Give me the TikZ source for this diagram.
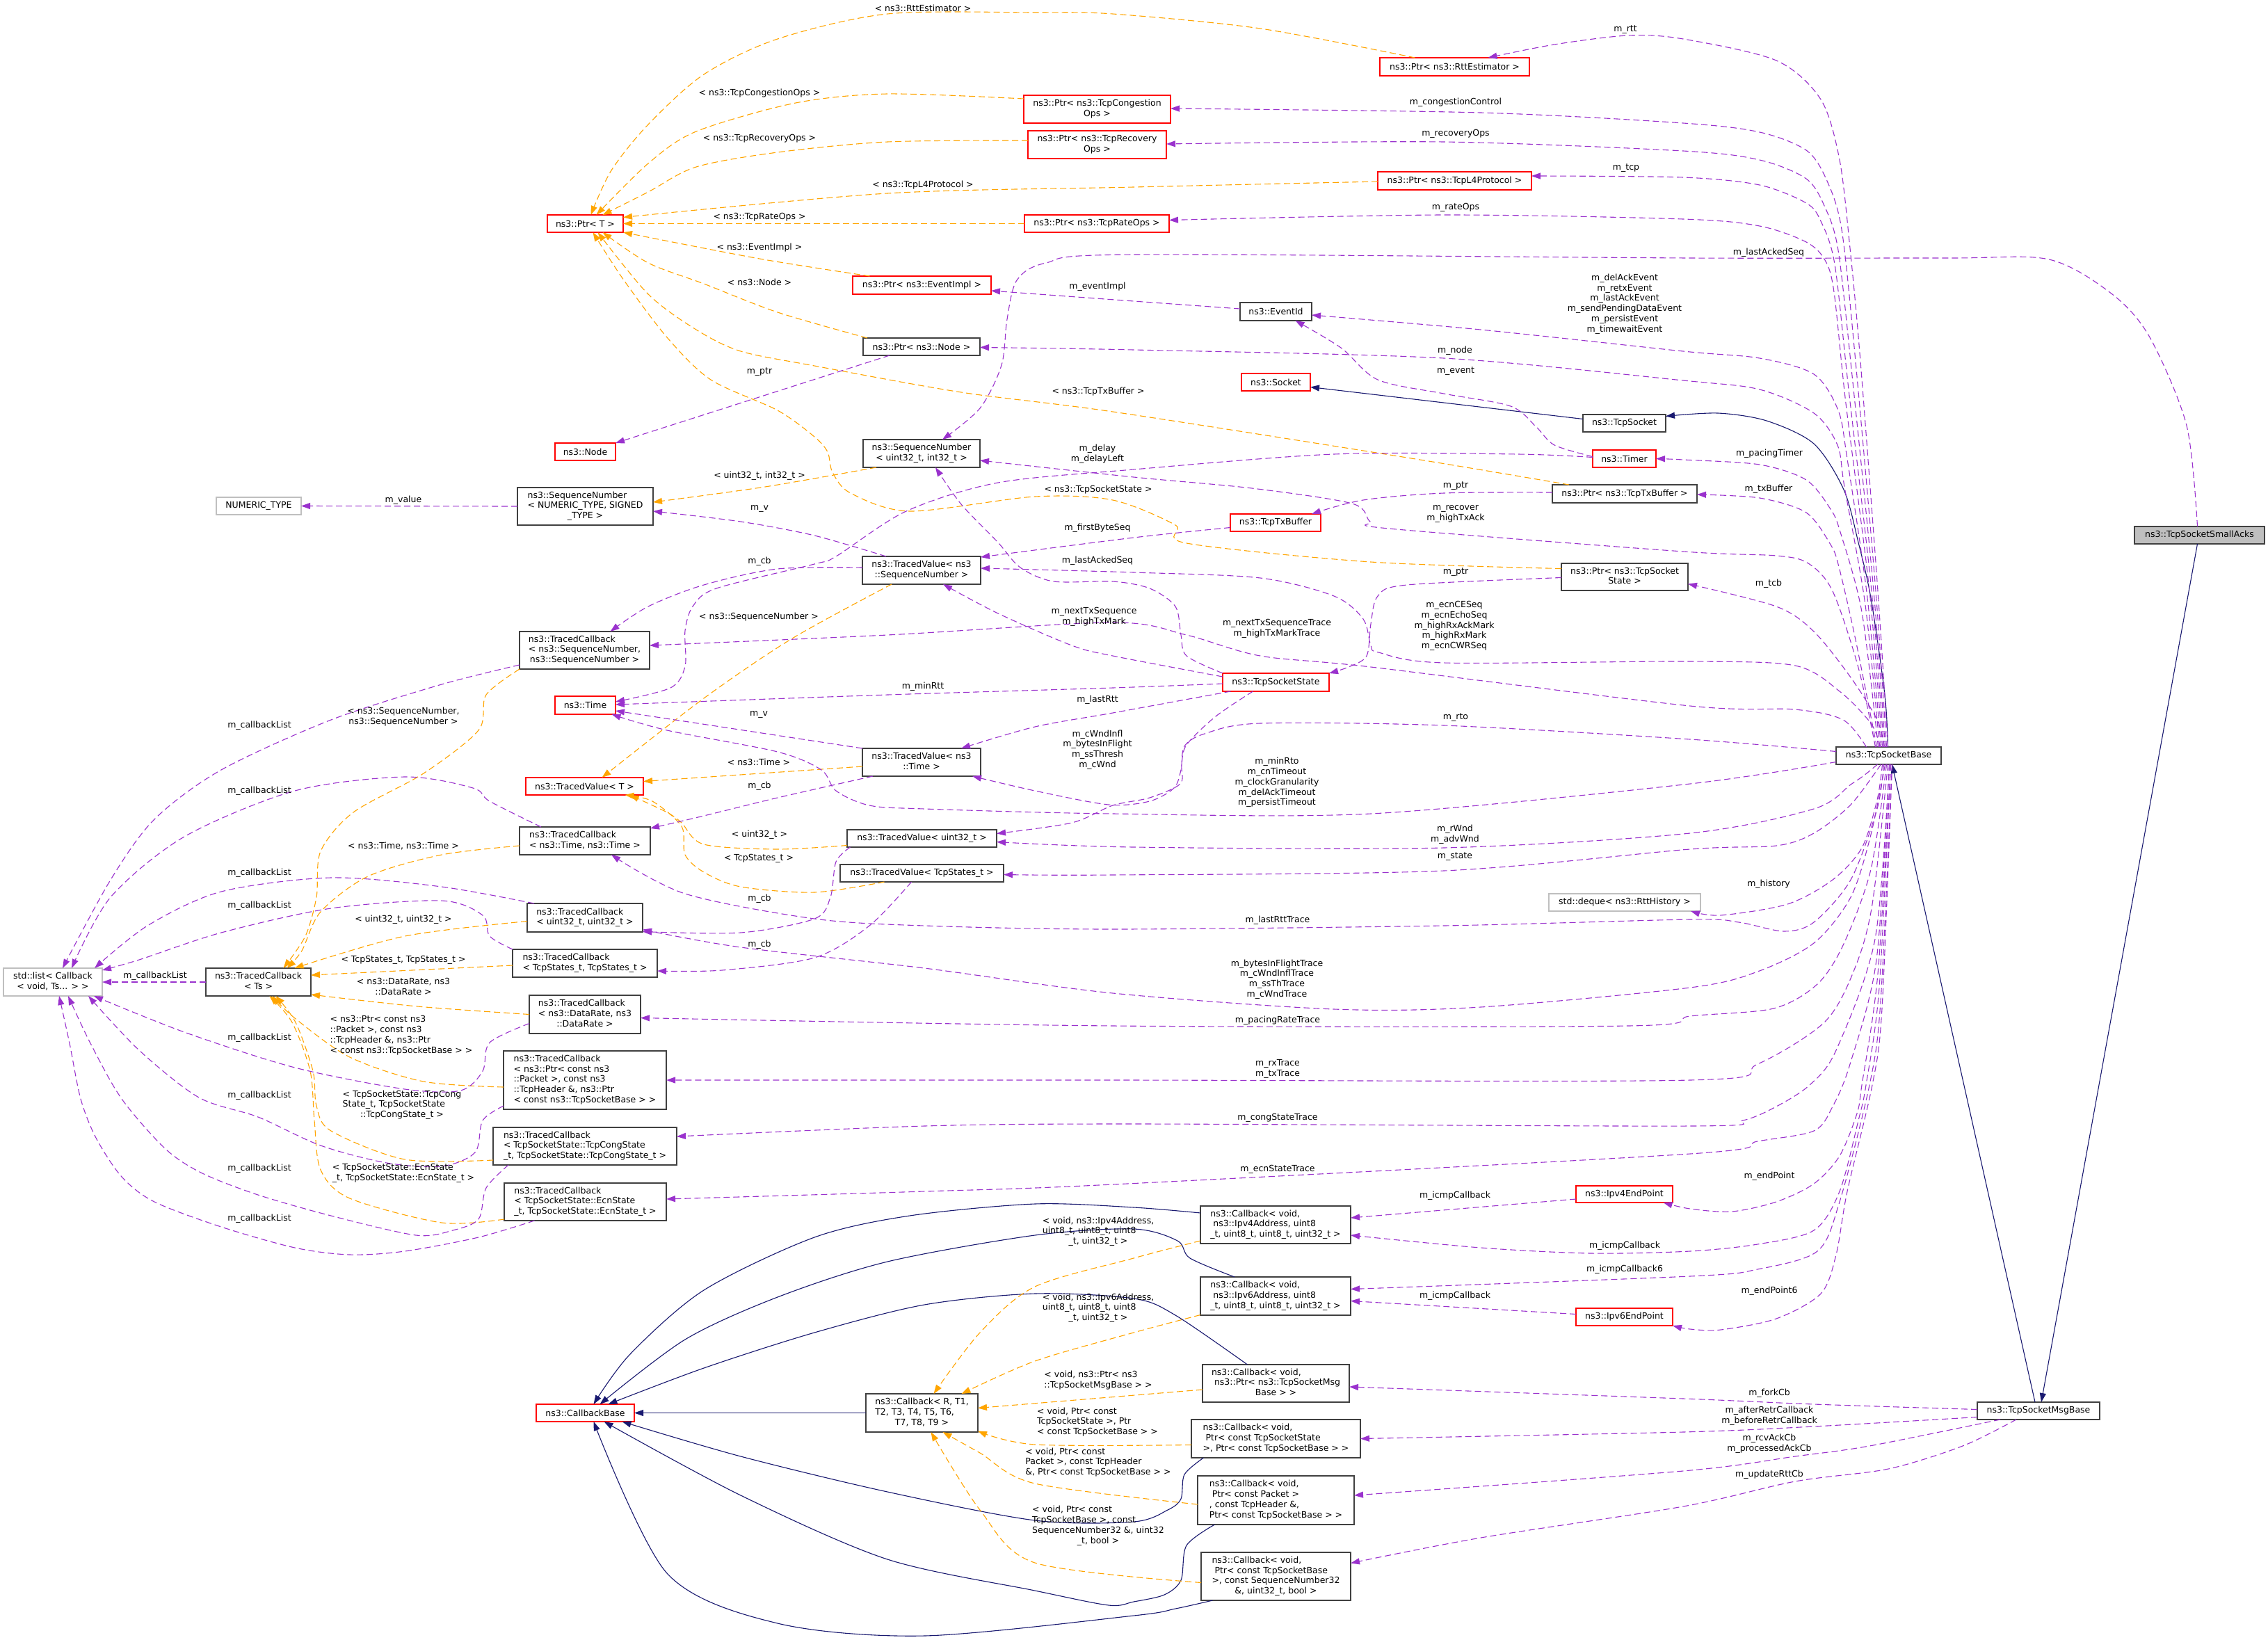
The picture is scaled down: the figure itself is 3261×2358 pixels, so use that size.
\documentclass[tikz,border=0pt]{standalone}
\usepackage{fontspec}
\setmainfont{DejaVu Sans}
\usetikzlibrary{arrows.meta}
\definecolor{uc}{HTML}{9A32CD}
\definecolor{tc}{HTML}{FFA500}
\definecolor{ic}{HTML}{191970}
\definecolor{bc}{HTML}{404040}
\definecolor{gc}{HTML}{BFBFBF}
\definecolor{rc}{HTML}{FF0000}
\newcommand\ml[2]{\begin{tabular}{@{}l@{}}#1\\\multicolumn{1}{@{}c@{}}{#2}\end{tabular}}
\newcommand\nd[7]{\node[#6,minimum width={#4-#2},minimum height={#5-#3}] (#1) at ({(#2+#4)/2},{(#3+#5)/2}) {#7};}
\newcommand\E[2]{\draw[#1] plot[smooth,tension=0.5] coordinates {#2};}
\begin{document}
\begin{tikzpicture}[x=1pt,y=-1pt,
  every node/.style={font=\fontsize{12.5}{14.8}\selectfont},
  box/.style={draw, line width=1.1pt, fill=white, inner sep=1pt, outer sep=0pt},
  bbox/.style={box, draw=bc},
  rbox/.style={box, draw=rc},
  gbox/.style={box, draw=gc},
  sbox/.style={box, draw=bc, fill=gc},
  lab/.style={inner sep=0pt, align=center},
  mem/.style={draw=uc, line width=1.1pt, dash pattern=on 9pt off 5pt, -{Triangle[length=13pt,width=9pt]}},
  tpl/.style={draw=tc, line width=1.1pt, dash pattern=on 9pt off 5pt, -{Triangle[length=13pt,width=9pt]}},
  inh/.style={draw=ic, line width=1.1pt, -{Triangle[length=13pt,width=9pt]}}
]
\fill[white] (0,0) rectangle (3261,2358);
\useasboundingbox (0,0) rectangle (3261,2358);

% ---------------- nodes ----------------
\nd{smallacks}{3069}{757}{3256}{782}{sbox}{ns3::TcpSocketSmallAcks}
\nd{base}{2640}{1074}{2791}{1099}{bbox}{ns3::TcpSocketBase}
\nd{msgbase}{2843}{2016}{3019}{2041}{bbox}{ns3::TcpSocketMsgBase}
\nd{tcpsocket}{2276}{596}{2395}{621}{bbox}{ns3::TcpSocket}
\nd{socket}{1785}{537}{1884}{562}{rbox}{ns3::Socket}
\nd{rttptr}{1984}{83}{2199}{109}{rbox}{ns3::Ptr< ns3::RttEstimator >}
\nd{congptr}{1472}{137}{1683}{177}{rbox}{\ml{ns3::Ptr< ns3::TcpCongestion}{Ops >}}
\nd{recptr}{1478}{188}{1677}{228}{rbox}{\ml{ns3::Ptr< ns3::TcpRecovery}{Ops >}}
\nd{l4ptr}{1981}{247}{2202}{273}{rbox}{ns3::Ptr< ns3::TcpL4Protocol >}
\nd{rateptr}{1473}{309}{1681}{334}{rbox}{ns3::Ptr< ns3::TcpRateOps >}
\nd{ptrT}{787}{309}{896}{334}{rbox}{ns3::Ptr< T >}
\nd{evptr}{1226}{397}{1425}{423}{rbox}{ns3::Ptr< ns3::EventImpl >}
\nd{eventid}{1783}{435}{1886}{461}{bbox}{ns3::EventId}
\nd{nodeptr}{1241}{486}{1409}{511}{bbox}{ns3::Ptr< ns3::Node >}
\nd{nnode}{798}{637}{885}{662}{rbox}{ns3::Node}
\nd{sequ}{1241}{632}{1409}{672}{bbox}{\ml{ns3::SequenceNumber}{< uint32\_t, int32\_t >}}
\nd{timer}{2290}{647}{2381}{672}{rbox}{ns3::Timer}
\nd{txptr}{2232}{697}{2440}{723}{bbox}{ns3::Ptr< ns3::TcpTxBuffer >}
\nd{txbuf}{1769}{739}{1899}{764}{rbox}{ns3::TcpTxBuffer}
\nd{numtype}{311}{715}{433}{740}{gbox}{NUMERIC\_TYPE}
\nd{seqgen}{744}{701}{939}{755}{bbox}{\ml{ns3::SequenceNumber\\< NUMERIC\_TYPE, SIGNED}{\_TYPE >}}
\nd{tvseq}{1240}{800}{1410}{840}{bbox}{\ml{ns3::TracedValue< ns3}{::SequenceNumber >}}
\nd{tcbptr}{2245}{810}{2427}{849}{bbox}{\ml{ns3::Ptr< ns3::TcpSocket}{State >}}
\nd{tcseq}{747}{908}{934}{962}{bbox}{\ml{ns3::TracedCallback\\< ns3::SequenceNumber,}{ns3::SequenceNumber >}}
\nd{tcs}{1758}{968}{1911}{994}{rbox}{ns3::TcpSocketState}
\nd{time}{798}{1001}{885}{1027}{rbox}{ns3::Time}
\nd{tvtime}{1240}{1076}{1410}{1116}{bbox}{\ml{ns3::TracedValue< ns3}{::Time >}}
\nd{tvT}{756}{1118}{925}{1143}{rbox}{ns3::TracedValue< T >}
\nd{tctime}{747}{1189}{935}{1229}{bbox}{\ml{ns3::TracedCallback}{< ns3::Time, ns3::Time >}}
\nd{tvu32}{1218}{1193}{1433}{1218}{bbox}{ns3::TracedValue< uint32\_t >}
\nd{tvstates}{1208}{1243}{1443}{1268}{bbox}{ns3::TracedValue< TcpStates\_t >}
\nd{deque}{2227}{1285}{2445}{1310}{gbox}{std::deque< ns3::RttHistory >}
\nd{tcu32}{758}{1299}{924}{1340}{bbox}{\ml{ns3::TracedCallback}{< uint32\_t, uint32\_t >}}
\nd{tcstates}{737}{1365}{945}{1405}{bbox}{\ml{ns3::TracedCallback}{< TcpStates\_t, TcpStates\_t >}}
\nd{stdlist}{5}{1392}{147}{1432}{gbox}{\ml{std::list< Callback}{< void, Ts... > >}}
\nd{tcts}{296}{1392}{447}{1432}{bbox}{\ml{ns3::TracedCallback}{< Ts >}}
\nd{tcrate}{761}{1431}{921}{1486}{bbox}{\ml{ns3::TracedCallback\\< ns3::DataRate, ns3}{::DataRate >}}
\nd{tcpkt}{724}{1511}{958}{1595}{bbox}{\ml{ns3::TracedCallback\\< ns3::Ptr< const ns3\\::Packet >, const ns3\\::TcpHeader \&, ns3::Ptr}{< const ns3::TcpSocketBase > >}}
\nd{tccong}{709}{1621}{973}{1675}{bbox}{\ml{ns3::TracedCallback\\< TcpSocketState::TcpCongState}{\_t, TcpSocketState::TcpCongState\_t >}}
\nd{tcecn}{725}{1701}{958}{1755}{bbox}{\ml{ns3::TracedCallback\\< TcpSocketState::EcnState}{\_t, TcpSocketState::EcnState\_t >}}
\nd{cbbase}{771}{2019}{912}{2044}{rbox}{ns3::CallbackBase}
\nd{cbgen}{1245}{2004}{1406}{2059}{bbox}{\ml{ns3::Callback< R, T1,\\T2, T3, T4, T5, T6,}{T7, T8, T9 >}}
\nd{cbipv4}{1726}{1734}{1942}{1788}{bbox}{\ml{ns3::Callback< void,\\\hspace*{4pt}ns3::Ipv4Address, uint8}{\_t, uint8\_t, uint8\_t, uint32\_t >}}
\nd{cbipv6}{1726}{1836}{1942}{1891}{bbox}{\ml{ns3::Callback< void,\\\hspace*{4pt}ns3::Ipv6Address, uint8}{\_t, uint8\_t, uint8\_t, uint32\_t >}}
\nd{ipv4ep}{2266}{1705}{2405}{1729}{rbox}{ns3::Ipv4EndPoint}
\nd{ipv6ep}{2266}{1881}{2405}{1906}{rbox}{ns3::Ipv6EndPoint}
\nd{cbmsg}{1729}{1962}{1940}{2016}{bbox}{\ml{ns3::Callback< void,\\\hspace*{4pt}ns3::Ptr< ns3::TcpSocketMsg}{Base > >}}
\nd{cbtcs}{1713}{2041}{1956}{2096}{bbox}{\ml{ns3::Callback< void,\\\hspace*{4pt}Ptr< const TcpSocketState}{>, Ptr< const TcpSocketBase > >}}
\nd{cbpkt}{1722}{2122}{1947}{2192}{bbox}{\ml{ns3::Callback< void,\\\hspace*{4pt}Ptr< const Packet >\\, const TcpHeader \&,}{Ptr< const TcpSocketBase > >}}
\nd{cbseq}{1727}{2232}{1942}{2301}{bbox}{\ml{ns3::Callback< void,\\\hspace*{4pt}Ptr< const TcpSocketBase\\>, const SequenceNumber32}{\&, uint32\_t, bool >}}

% ---------------- inheritance ----------------
\draw[inh] ([yshift=6pt]tcpsocket.west) -- ([yshift=-7pt]socket.east);
\E{inh}{([xshift=-1pt]base.north) (2710,999) (2690,860) (2672,780) (2651,704) (2608,638) (2540,605) (2470,594) ([yshift=10pt]tcpsocket.east)}
\draw[inh] ([xshift=-5pt]msgbase.north) -- ([xshift=5pt]base.south);
\draw[inh] ([xshift=-3pt]smallacks.south) -- ([xshift=4pt]msgbase.north);
\draw[inh] (cbgen.west) -- (cbbase.east);
\E{inh}{([yshift=17pt]cbipv4.west) (1630,1736) (1488,1731) (1308,1748) (1171,1779) (1012,1855) (906,1947) ([xshift=12pt]cbbase.north)}
\E{inh}{([xshift=-59pt]cbipv6.north) (1711,1809) (1693,1784) (1630,1767) (1488,1776) (1276,1814) (1118,1865) (985,1926) ([xshift=21pt]cbbase.north)}
\E{inh}{([xshift=-41pt]cbmsg.north) (1690,1891) (1630,1867) (1488,1860) (1329,1876) (1171,1916) (1012,1967) ([xshift=33pt]cbbase.north)}
\E{inh}{([xshift=-104pt]cbtcs.south) (1703,2120) (1698,2155) (1679,2171) (1630,2188) (1488,2186) (1276,2145) (1065,2094) ([xshift=53pt]cbbase.south)}
\E{inh}{([xshift=-88pt]cbpkt.south) (1706,2222) (1698,2272) (1674,2293) (1630,2303) (1594,2308) (1488,2287) (1276,2242) (1065,2150) ([xshift=27pt]cbbase.south)}
\E{inh}{([xshift=-91pt]cbseq.south) (1690,2313) (1630,2323) (1329,2352) (1118,2334) (959,2262) ([xshift=12pt]cbbase.south)}

% ---------------- template instances ----------------
\E{tpl}{([xshift=-57pt]rttptr.north) (1812,41) (1600,20) (1488,18) (1276,20) (1118,56) (1012,107) (932,179) (879,245) ([xshift=8pt]ptrT.north)}
\E{tpl}{([yshift=15pt]congptr.west) (1276,135) (1144,148) (1001,189) (932,235) ([xshift=16pt]ptrT.north)}
\E{tpl}{([yshift=6pt]recptr.west) (1276,204) (1118,219) (1001,240) (932,276) ([xshift=25pt]ptrT.north)}
\E{tpl}{([yshift=-1pt]l4ptr.west) (1630,269) (1276,278) ([yshift=9pt]ptrT.east)}
\draw[tpl] (rateptr.west) -- (ptrT.east);
\E{tpl}{([xshift=-75pt]evptr.north) (1092,372) (ptrT.south east)}
\E{tpl}{([xshift=-78pt]nodeptr.north) (1118,449) (1012,408) (932,378) ([xshift=25pt]ptrT.south)}
\E{tpl}{([xshift=-80pt]txptr.north) (2023,658) (1600,592) (1382,564) (1171,526) (1065,505) (1001,474) (932,423) ([xshift=18pt]ptrT.south)}
\E{tpl}{([yshift=12pt]tcbptr.west) (1971,808) (1706,781) (1690,755) (1600,719) (1488,714) (1308,735) (1223,709) (1197,679) (1190,650) (1171,628) (1118,590) (1022,546) (959,485) (895,400) ([xshift=11pt]ptrT.south)}
\E{tpl}{([xshift=-65pt]sequ.south) (1100,700) ([yshift=6pt]seqgen.east)}
\E{tpl}{([xshift=-43pt]tvseq.south) (1139,918) (1012,1004) ([xshift=25pt]tvT.north)}
\draw[tpl] ([yshift=-6pt]tvtime.west) -- ([yshift=7pt]tvT.east);
\E{tpl}{([yshift=-10pt]tvu32.west) (1118,1221) (1012,1214) (980,1183) (959,1168) ([xshift=65pt]tvT.south)}
\E{tpl}{([xshift=-54pt]tvstates.south) (1171,1283) (1065,1275) (1012,1254) (985,1229) (980,1188) (938,1152) ([xshift=58pt]tvT.south)}
\E{tpl}{(tcseq.south west) (699,999) (688,1050) (609,1112) (508,1168) (461,1224) (455,1290) (439,1346) ([xshift=36pt]tcts.north)}
\E{tpl}{([yshift=-7pt]tctime.west) (635,1229) (529,1260) (461,1311) (434,1367) ([xshift=41pt]tcts.north)}
\E{tpl}{([yshift=-5pt]tcu32.west) (582,1346) ([xshift=52pt]tcts.north)}
\draw[tpl] ([yshift=-3pt]tcstates.west) -- ([yshift=10pt]tcts.east);
\E{tpl}{(tcrate.west) (600,1447) ([yshift=-18pt]tcts.east)}
\E{tpl}{([yshift=-10pt]tcpkt.west) (609,1555) (503,1520) (424,1464) ([xshift=20pt]tcts.south)}
\E{tpl}{([yshift=-20pt]tccong.west) (582,1667) (476,1626) (455,1590) (450,1540) (425,1470) ([xshift=25pt]tcts.south)}
\E{tpl}{([yshift=-25pt]tcecn.west) (635,1758) (503,1723) (461,1682) (452,1611) (446,1540) (420,1470) ([xshift=16pt]tcts.south)}
\E{tpl}{([yshift=-23pt]cbipv4.west) (1630,1809) (1488,1850) (1409,1916) ([xshift=17pt]cbgen.north)}
\E{tpl}{([yshift=-27pt]cbipv6.west) (1630,1916) (1488,1957) ([xshift=57pt]cbgen.north)}
\draw[tpl] ([yshift=-9pt]cbmsg.west) -- ([yshift=7pt]cbgen.east);
\E{tpl}{([yshift=-9pt]cbtcs.west) (1488,2077) ([yshift=-26pt]cbgen.east)}
\E{tpl}{([yshift=-6pt]cbpkt.west) (1488,2133) (1409,2089) ([xshift=30pt]cbgen.south)}
\E{tpl}{([yshift=-9pt]cbseq.west) (1488,2247) (1409,2171) ([xshift=13pt]cbgen.south)}

% ---------------- members of TcpSocketBase ----------------
\E{mem}{([xshift=-1pt]base.north) (2700,850) (2675,520) (2660,357) (2645,230) (2618,143) (2554,87) (2420,56) (2341,51) (2235,64) ([xshift=48pt]rttptr.north)}
\E{mem}{([xshift=-3pt]base.north) (2697,850) (2668,520) (2648,330) (2626,258) (2597,216) (2530,190) (2420,177) (2129,162) ([yshift=1pt]congptr.east)}
\E{mem}{([xshift=-5pt]base.north) (2694,850) (2663,540) (2643,360) (2624,298) (2597,257) (2530,230) (2420,217) (2076,204) ([yshift=1pt]recptr.east)}
\E{mem}{([xshift=-7pt]base.north) (2691,850) (2658,560) (2638,380) (2618,318) (2597,292) (2530,266) (2420,255) ([yshift=7pt]l4ptr.east)}
\E{mem}{([xshift=-9pt]base.north) (2688,850) (2654,580) (2637,420) (2624,374) (2597,348) (2530,325) (2420,315) (2076,309) ([yshift=5pt]rateptr.east)}
\E{mem}{([xshift=-11pt]base.north) (2685,860) (2656,660) (2643,590) (2608,538) (2530,515) (2420,505) (2129,474) ([yshift=-5pt]eventid.east)}
\E{mem}{([xshift=-13pt]base.north) (2682,870) (2652,700) (2642,640) (2608,594) (2530,560) (2420,547) (2076,515) (1630,503) ([yshift=-1pt]nodeptr.east)}
\E{mem}{([xshift=-15pt]base.north) (2677,880) (2646,765) (2632,732) (2597,690) (2530,668) (2420,661) (timer.east)}
\E{mem}{([xshift=-17pt]base.north) (2668,920) (2644,815) (2632,783) (2597,737) (2530,716) ([yshift=-1pt]txptr.east)}
\E{mem}{([xshift=-19pt]base.north) (2672,960) (2635,850) (2600,810) (2554,799) (2420,793) (1997,760) (1970,750) (1944,724) (1800,702) (1630,686) ([yshift=-10pt]sequ.east)}
\E{mem}{([xshift=-6pt]base.north) (2699,1035) (2661,974) (2608,908) (2554,872) ([yshift=-10pt]tcbptr.east)}
\E{mem}{([xshift=-12pt]base.north) (2690,1040) (2645,994) (2581,957) (2430,951) (2076,953) (1982,938) (1971,928) (1960,890) (1918,857) (1812,831) (1630,823) ([yshift=3pt]tvseq.east)}
\E{mem}{([xshift=-32pt]base.north) (2650,1035) (2580,1020) (2430,1015) (1971,959) (1812,943) (1706,913) (1600,895) (1276,913) ([yshift=7pt]tcseq.east)}
\E{mem}{([yshift=6pt]base.west) (2430,1063) (2076,1043) (1812,1040) (1732,1055) (1703,1073) (1698,1107) (1688,1133) (1653,1152) (1594,1157) (1488,1137) ([xshift=73pt]tvtime.south)}
\E{mem}{([yshift=-9pt]base.west) (2430,1127) (1971,1170) (1600,1170) (1329,1163) (1250,1158) (1202,1137) (1181,1107) (1118,1081) (959,1050) ([xshift=38pt]time.south)}
\E{mem}{([xshift=-16pt]base.south) (2680,1115) (2661,1128) (2608,1163) (2430,1198) (2076,1219) (1630,1218) ([yshift=-5pt]tvu32.east)}
\E{mem}{([xshift=-11pt]base.south) (2661,1157) (2608,1198) (2554,1216) (2430,1221) (2076,1252) (1600,1258) ([yshift=-2pt]tvstates.east)}
\E{mem}{([xshift=-9pt]base.south) (2699,1150) (2677,1219) (2635,1265) (2570,1300) (2474,1316) ([xshift=95pt]deque.south)}
\E{mem}{([xshift=-7pt]base.south) (2699,1163) (2661,1265) (2608,1326) (2565,1339) (2500,1326) (2430,1322) (2076,1331) (1600,1336) (1329,1331) (1171,1321) (985,1285) ([xshift=38pt]tctime.south)}
\E{mem}{([xshift=-5pt]base.south) (2690,1200) (2661,1290) (2608,1356) (2527,1397) (2430,1420) (2129,1448) (1918,1451) (1600,1428) (1329,1392) (1065,1362) ([yshift=-17pt]tcu32.east)}
\E{mem}{([xshift=-3pt]base.south) (2690,1250) (2651,1357) (2613,1415) (2550,1450) (2430,1461) (2341,1475) (1600,1475) ([yshift=-5pt]tcrate.east)}
\E{mem}{([xshift=-1pt]base.south) (2692,1300) (2667,1392) (2624,1469) (2527,1530) (2430,1553) (1600,1553) (tcpkt.east)}
\E{mem}{([xshift=1pt]base.south) (2696,1350) (2640,1510) (2602,1560) (2554,1591) (2506,1611) (2430,1619) (1630,1616) (1329,1619) ([yshift=14pt]tccong.east)}
\E{mem}{([xshift=1pt]base.south) (2698,1380) (2660,1530) (2635,1591) (2608,1626) (2527,1641) (2430,1659) (1600,1703) (1329,1713) ([yshift=4pt]tcecn.east)}
\E{mem}{([xshift=3pt]base.south) (2700,1400) (2677,1560) (2670,1601) (2645,1662) (2608,1702) (2554,1728) (2490,1742) (2430,1738) ([xshift=56pt]ipv4ep.south)}
\E{mem}{([xshift=3pt]base.south) (2702,1420) (2683,1560) (2672,1611) (2645,1713) (2608,1769) (2527,1789) (2430,1799) (2288,1802) (2129,1794) ([yshift=-15pt]cbipv4.east)}
\E{mem}{([xshift=5pt]base.south) (2704,1440) (2688,1560) (2645,1728) (2613,1799) (2527,1825) (2430,1835) ([yshift=10pt]cbipv6.east)}
\E{mem}{([xshift=5pt]base.south) (2706,1450) (2692,1560) (2656,1713) (2640,1804) (2618,1860) (2554,1896) (2474,1912) (2430,1911) (ipv6ep.south east)}

% ---------------- other members ----------------
\E{mem}{([xshift=-3pt]smallacks.north) (3144,612) (3091,485) (3037,423) (2946,373) (2800,371) (2430,371) (1630,366) (1504,378) (1462,403) (1448,459) (1440,525) (1409,587) ([xshift=30pt]sequ.north)}
\E{mem}{([yshift=4pt]eventid.west) (1630,433) ([yshift=-8pt]evptr.east)}
\E{mem}{([yshift=3pt]timer.west) (2235,640) (2209,614) (2172,584) (2076,566) (1981,546) (1928,500) ([xshift=28pt]eventid.south)}
\draw[mem] ([xshift=-46pt]nodeptr.south) -- (nnode.north east);
\E{mem}{([yshift=2pt]txptr.west) (2076,709) (1960,719) ([xshift=52pt]txbuf.north)}
\E{mem}{([yshift=2pt]timer.west) (2182,653) (1918,653) (1630,675) (1435,694) (1303,735) (1202,800) (1171,811) (1030,846) (996,872) (985,907) (985,958) (964,989) ([yshift=5pt]time.east)}
\E{mem}{([yshift=-7pt]txbuf.west) (1630,773) ([yshift=19pt]tvseq.east)}
\E{mem}{(tcs.north west) (1706,943) (1698,913) (1690,872) (1653,846) (1600,836) (1515,836) (1467,816) (1435,780) (1382,725) ([xshift=20pt]sequ.south)}
\E{mem}{([yshift=8pt]tcs.west) (1600,943) (1541,928) (1435,882) ([xshift=31pt]tvseq.south)}
\E{mem}{([yshift=-1pt]tcbptr.west) (2023,841) (1981,857) (1971,897) (1965,943) (1939,959) (tcs.north east)}
\E{mem}{([yshift=-2pt]tcs.west) (1600,989) (1276,999) ([yshift=1pt]time.east)}
\E{mem}{([xshift=-65pt]tcs.south) (1600,1025) (1488,1045) ([xshift=57pt]tvtime.north)}
\E{mem}{([xshift=-33pt]tcs.south) (1748,1030) (1706,1071) (1699,1100) (1697,1127) (1653,1147) (1600,1158) (1541,1183) ([yshift=7pt]tvu32.east)}
\draw[mem] (tvtime.north west) -- ([yshift=-8pt]time.east);
\E{mem}{([yshift=4pt]tvseq.west) (1118,818) (1012,841) (932,872) ([xshift=37pt]tcseq.north)}
\E{mem}{([xshift=-51pt]tvseq.north) (1171,770) (1065,750) ([yshift=-7pt]seqgen.east)}
\E{mem}{([xshift=-70pt]tvtime.south) (1118,1147) (1012,1173) ([yshift=18pt]tctime.east)}
\E{mem}{([xshift=-103pt]tvu32.south) (1202,1239) (1194,1290) (1171,1321) (1065,1341) ([yshift=-20pt]tcu32.east)}
\E{mem}{([xshift=-15pt]tvstates.south) (1250,1331) (1171,1377) (1038,1395) ([yshift=-11pt]tcstates.east)}
\draw[mem] (seqgen.west) -- (numtype.east);
\draw[mem] ([yshift=-7pt]ipv4ep.west) -- ([yshift=10pt]cbipv4.east);
\draw[mem] ([yshift=4pt]ipv6ep.west) -- ([yshift=-7pt]cbipv6.east);
\E{mem}{([yshift=2pt]msgbase.west) (2608,2019) (2420,2011) ([yshift=-5pt]cbmsg.east)}
\E{mem}{([yshift=-9pt]msgbase.west) (2608,2051) (2420,2059) (cbtcs.east)}
\E{mem}{([xshift=-55pt]msgbase.south) (2688,2079) (2581,2094) (2420,2115) ([yshift=7pt]cbpkt.east)}
\E{mem}{([xshift=-32pt]msgbase.south) (2822,2079) (2715,2112) (2581,2130) (2420,2166) (2129,2211) ([yshift=19pt]cbseq.east)}
% callback lists
\draw[mem] (tcts.west) -- (stdlist.east);
\E{mem}{([yshift=-21pt]tcseq.west) (635,984) (476,1035) (318,1107) (222,1178) (159,1265) ([xshift=14pt]stdlist.north)}
\E{mem}{([xshift=-63pt]tctime.north) (704,1152) (680,1133) (582,1117) (424,1137) (265,1203) (159,1290) ([xshift=27pt]stdlist.north)}
\E{mem}{([xshift=-73pt]tcu32.north) (635,1275) (476,1262) (318,1282) (212,1331) ([xshift=60pt]stdlist.north)}
\E{mem}{(tcstates.north west) (704,1346) (694,1316) (635,1295) (476,1306) (318,1341) (200,1380) ([yshift=-3pt]stdlist.north east)}
\E{mem}{([yshift=-13pt]tcrate.west) (704,1499) (694,1540) (662,1568) (582,1566) (424,1535) (265,1484) ([xshift=-12pt]stdlist.south east)}
\E{mem}{([yshift=-37pt]tcpkt.west) (694,1611) (683,1657) (635,1677) (556,1672) (461,1647) (371,1606) (286,1578) (200,1510) ([xshift=51pt]stdlist.south)}
\E{mem}{([xshift=-110pt]tccong.south) (699,1708) (688,1753) (651,1769) (598,1776) (476,1748) (371,1718) (291,1687) (238,1652) (175,1580) (130,1500) ([xshift=22pt]stdlist.south)}
\E{mem}{([xshift=-73pt]tcecn.south) (688,1779) (582,1799) (503,1804) (424,1794) (318,1764) (222,1728) (175,1692) (138,1636) (116,1580) (100,1500) ([xshift=9pt]stdlist.south)}

% ---------------- template labels ----------------
\node[lab] (t1) at (1327,12) {< ns3::RttEstimator >};
\node[lab] (t2) at (1092,134) {< ns3::TcpCongestionOps >};
\node[lab] (t3) at (1092,199) {< ns3::TcpRecoveryOps >};
\node[lab] (t4) at (1327,266) {< ns3::TcpL4Protocol >};
\node[lab] (t5) at (1092,312) {< ns3::TcpRateOps >};
\node[lab] (t6) at (1092,356) {< ns3::EventImpl >};
\node[lab] (t7) at (1092,406) {< ns3::Node >};
\node[lab] (t8) at (1579,563) {< ns3::TcpTxBuffer >};
\node[lab] (t9) at (1579,704) {< ns3::TcpSocketState >};
\node[lab] (t10) at (1092,684) {< uint32\_t, int32\_t >};
\node[lab] (t11) at (1091,887) {< ns3::SequenceNumber >};
\node[lab] (t12) at (1091,1096) {< ns3::Time >};
\node[lab] (t13) at (1092,1200) {< uint32\_t >};
\node[lab] (t14) at (1091,1234) {< TcpStates\_t >};
\node[lab] (t15) at (580,1031) {\ml{< ns3::SequenceNumber,}{ns3::SequenceNumber >}};
\node[lab] (t16) at (580,1216) {< ns3::Time, ns3::Time >};
\node[lab] (t17) at (580,1322) {< uint32\_t, uint32\_t >};
\node[lab] (t18) at (580,1380) {< TcpStates\_t, TcpStates\_t >};
\node[lab] (t19) at (580,1420) {\ml{< ns3::DataRate, ns3}{::DataRate >}};
\node[lab] (t20) at (577,1489) {\ml{< ns3::Ptr< const ns3\\::Packet >, const ns3\\::TcpHeader \&, ns3::Ptr}{< const ns3::TcpSocketBase > >}};
\node[lab] (t21) at (578,1589) {\ml{< TcpSocketState::TcpCong\\State\_t, TcpSocketState}{::TcpCongState\_t >}};
\node[lab] (t22) at (580,1687) {\ml{< TcpSocketState::EcnState}{\_t, TcpSocketState::EcnState\_t >}};
\node[lab] (t23) at (1579,1771) {\ml{< void, ns3::Ipv4Address,\\uint8\_t, uint8\_t, uint8}{\_t, uint32\_t >}};
\node[lab] (t24) at (1579,1881) {\ml{< void, ns3::Ipv6Address,\\uint8\_t, uint8\_t, uint8}{\_t, uint32\_t >}};
\node[lab] (t25) at (1579,1985) {\ml{< void, ns3::Ptr< ns3}{::TcpSocketMsgBase > >}};
\node[lab] (t26) at (1578,2045) {\ml{< void, Ptr< const\\TcpSocketState >, Ptr}{< const TcpSocketBase > >}};
\node[lab] (t27) at (1579,2103) {\ml{< void, Ptr< const\\Packet >, const TcpHeader}{\&, Ptr< const TcpSocketBase > >}};
\node[lab] (t28) at (1579,2194) {\ml{< void, Ptr< const\\TcpSocketBase >, const\\SequenceNumber32 \&, uint32}{\_t, bool >}};

% ---------------- member labels ----------------
\node[lab] (m1) at (2337,43) {m\_rtt};
\node[lab] (m2) at (2093,147) {m\_congestionControl};
\node[lab] (m3) at (2093,192) {m\_recoveryOps};
\node[lab] (m4) at (2338,242) {m\_tcp};
\node[lab] (m5) at (2093,298) {m\_rateOps};
\node[lab] (m6) at (2543,363) {m\_lastAckedSeq};
\node[lab] (m7) at (1578,412) {m\_eventImpl};
\node[lab] (m8) at (2336,437) {m\_delAckEvent\\m\_retxEvent\\m\_lastAckEvent\\m\_sendPendingDataEvent\\m\_persistEvent\\m\_timewaitEvent};
\node[lab] (m9) at (2092,504) {m\_node};
\node[lab] (m10) at (2093,534) {m\_event};
\node[lab] (m11) at (1092,535) {m\_ptr};
\node[lab] (m12) at (2544,652) {m\_pacingTimer};
\node[lab] (m13) at (2543,703) {m\_txBuffer};
\node[lab] (m14) at (2093,699) {m\_ptr};
\node[lab] (m15) at (1578,653) {m\_delay\\m\_delayLeft};
\node[lab] (m16) at (2093,739) {m\_recover\\m\_highTxAck};
\node[lab] (m17) at (1092,731) {m\_v};
\node[lab] (m18) at (1578,759) {m\_firstByteSeq};
\node[lab] (m19) at (1092,807) {m\_cb};
\node[lab] (m20) at (1578,806) {m\_lastAckedSeq};
\node[lab] (m21) at (2093,823) {m\_ptr};
\node[lab] (m22) at (2543,839) {m\_tcb};
\node[lab] (m23) at (1573,887) {m\_nextTxSequence\\m\_highTxMark};
\node[lab] (m24) at (1836,904) {m\_nextTxSequenceTrace\\m\_highTxMarkTrace};
\node[lab] (m25) at (2091,900) {m\_ecnCESeq\\m\_ecnEchoSeq\\m\_highRxAckMark\\m\_highRxMark\\m\_ecnCWRSeq};
\node[lab] (m26) at (1327,987) {m\_minRtt};
\node[lab] (m27) at (1578,1006) {m\_lastRtt};
\node[lab] (m28) at (1091,1027) {m\_v};
\node[lab] (m29) at (2093,1032) {m\_rto};
\node[lab] (m30) at (1578,1078) {m\_cWndInfl\\m\_bytesInFlight\\m\_ssThresh\\m\_cWnd};
\node[lab] (m31) at (1836,1125) {m\_minRto\\m\_cnTimeout\\m\_clockGranularity\\m\_delAckTimeout\\m\_persistTimeout};
\node[lab] (m32) at (1092,1130) {m\_cb};
\node[lab] (m33) at (2092,1200) {m\_rWnd\\m\_advWnd};
\node[lab] (m34) at (2092,1232) {m\_state};
\node[lab] (m35) at (1092,1292) {m\_cb};
\node[lab] (m36) at (2543,1271) {m\_history};
\node[lab] (m37) at (1837,1323) {m\_lastRttTrace};
\node[lab] (m38) at (1092,1358) {m\_cb};
\node[lab] (m39) at (1836,1408) {m\_bytesInFlightTrace\\m\_cWndInflTrace\\m\_ssThTrace\\m\_cWndTrace};
\node[lab] (m40) at (1837,1467) {m\_pacingRateTrace};
\node[lab] (m41) at (1837,1537) {m\_rxTrace\\m\_txTrace};
\node[lab] (m42) at (1837,1607) {m\_congStateTrace};
\node[lab] (m43) at (1837,1681) {m\_ecnStateTrace};
\node[lab] (m44) at (2092,1719) {m\_icmpCallback};
\node[lab] (m45) at (2336,1791) {m\_icmpCallback};
\node[lab] (m46) at (2336,1825) {m\_icmpCallback6};
\node[lab] (m47) at (2092,1863) {m\_icmpCallback};
\node[lab] (m48) at (2544,1691) {m\_endPoint};
\node[lab] (m49) at (2544,1856) {m\_endPoint6};
\node[lab] (m50) at (2544,2003) {m\_forkCb};
\node[lab] (m51) at (2544,2036) {m\_afterRetrCallback\\m\_beforeRetrCallback};
\node[lab] (m52) at (2544,2076) {m\_rcvAckCb\\m\_processedAckCb};
\node[lab] (m53) at (2544,2120) {m\_updateRttCb};
\node[lab] (m54) at (580,719) {m\_value};
\node[lab] (c1) at (373,1043) {m\_callbackList};
\node[lab] (c2) at (373,1137) {m\_callbackList};
\node[lab] (c3) at (373,1255) {m\_callbackList};
\node[lab] (c4) at (373,1302) {m\_callbackList};
\node[lab] (c5) at (223,1403) {m\_callbackList};
\node[lab] (c6) at (373,1492) {m\_callbackList};
\node[lab] (c7) at (373,1575) {m\_callbackList};
\node[lab] (c8) at (373,1680) {m\_callbackList};
\node[lab] (c9) at (373,1752) {m\_callbackList};
\end{tikzpicture}
\end{document}
